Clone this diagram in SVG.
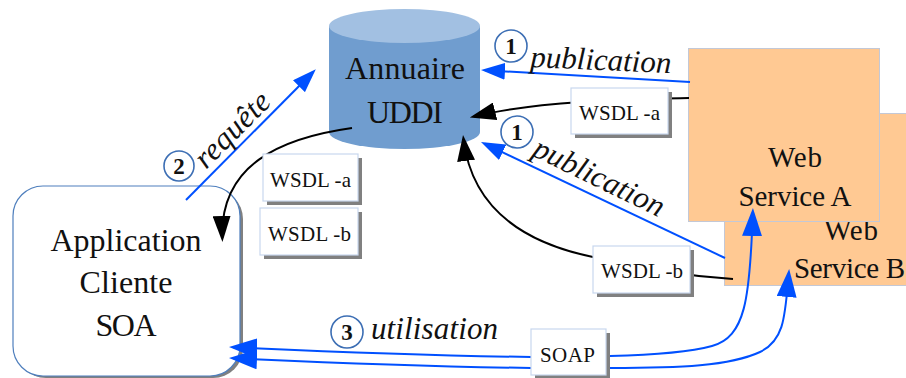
<svg xmlns="http://www.w3.org/2000/svg" width="906" height="378" viewBox="0 0 906 378">
<style>
text{font-family:"Liberation Serif","Times New Roman",serif;fill:#111}
.n{font-size:32px;text-anchor:middle}
.s{font-size:29px;text-anchor:middle}
.w{font-size:21px}
.i{font-size:31px;font-style:italic}
.d{font-size:23px;font-weight:bold;text-anchor:middle}
.c{fill:#fff;stroke:#3c6eb4;stroke-width:1.6}
.ws{fill:#ffc993;stroke:#c3c8d6;stroke-width:1}
.box{fill:#fff;stroke:#c8d7ee;stroke-width:1.2}
.sh{fill:#808080}
.k{fill:none;stroke:#000;stroke-width:2}
.b{fill:none;stroke:#0050ff;stroke-width:2}
</style>
<defs>
<marker id="hb" markerUnits="userSpaceOnUse" markerWidth="24" markerHeight="17" refX="20" refY="8.500" orient="auto"><path d="M0,0L24,8.500L0,17z" fill="#0050ff"/></marker>
<marker id="hB" markerUnits="userSpaceOnUse" markerWidth="28" markerHeight="20" refX="24" refY="10" orient="auto"><path d="M0,0L28,10L0,20z" fill="#0050ff"/></marker>
<marker id="hk" markerUnits="userSpaceOnUse" markerWidth="26" markerHeight="18" refX="22" refY="9" orient="auto"><path d="M0,0L26,9L0,18z" fill="#000"/></marker>
</defs>
<g id="client">
<rect x="16" y="189" width="227" height="189" rx="30" fill="#808080"/>
<rect x="13" y="186" width="227" height="190" rx="30" fill="#fff" stroke="#4f7fbd" stroke-width="1.2"/>
<text class="n" x="126" y="251" textLength="151">Application</text>
<text class="n" x="126" y="293" textLength="93">Cliente</text>
<text class="n" x="126" y="336" textLength="61">SOA</text>
</g>
<g id="annuaire">
<path d="M329,26V132A75.500,17 0 0 0 480,132V26z" fill="#709dcf"/>
<ellipse cx="404.500" cy="26" rx="75.500" ry="17" fill="#a2c0e2"/>
<text class="n" x="405" y="79" textLength="120">Annuaire</text>
<text class="n" x="405" y="123" textLength="76">UDDI</text>
</g>
<g id="service-b">
<rect class="ws" x="724.500" y="113.500" width="190" height="172"/>
<text class="s" x="851" y="240" textLength="54">Web</text>
<text class="s" x="794" y="278" textLength="111" style="text-anchor:start">Service B</text>
</g>
<g id="service-a">
<rect class="ws" x="688.500" y="48.500" width="191" height="173"/>
<text class="s" x="795" y="167" textLength="54">Web</text>
<text class="s" x="795" y="206" textLength="113">Service A</text>
</g>
<g id="connectors">
<path class="b" d="M186,200L313,72" marker-end="url(#hb)"/>
<path class="b" d="M690,82L485,70.200" marker-end="url(#hb)"/>
<path class="b" d="M725,258L484.600,143.700" marker-end="url(#hb)"/>
<path class="k" d="M689,98C640,99 540,100 473.700,116.600" marker-end="url(#hk)"/>
<path class="k" d="M733,279Q660,274 593,257C525,243 472,210 463.500,139" marker-end="url(#hk)"/>
<path class="k" d="M352,128C280,138 220,165 222.300,238" marker-end="url(#hk)"/>
<path class="b" d="M610,356C650,355 690,352 712,346C745,337 750,300 752.800,212" marker-end="url(#hB)"/>
<path class="b" d="M610,368C680,368 730,366 760,352C785,340 785,315 788.800,273" marker-end="url(#hB)"/>
<path class="b" d="M531,357Q400,355 233,347.200" marker-end="url(#hB)"/>
<path class="b" d="M531,368Q400,366 233,358.200" marker-end="url(#hB)"/>
</g>
<g id="wsdl-a-left">
<rect class="sh" x="267" y="158" width="95" height="47"/>
<rect class="box" x="263" y="154" width="95" height="47"/>
<text class="w" x="270" y="187" textLength="81">WSDL -a</text>
</g>
<g id="wsdl-b-left">
<rect class="sh" x="264" y="212" width="98" height="47"/>
<rect class="box" x="260" y="208" width="98" height="47"/>
<text class="w" x="268" y="241" textLength="83">WSDL -b</text>
</g>
<g id="wsdl-a-right">
<rect class="sh" x="575" y="92" width="97" height="46"/>
<rect class="box" x="571" y="88" width="97" height="46"/>
<text class="w" x="579" y="120" textLength="81">WSDL -a</text>
</g>
<g id="wsdl-b-right">
<rect class="sh" x="597" y="250" width="97" height="47"/>
<rect class="box" x="593" y="246" width="97" height="47"/>
<text class="w" x="601" y="278" textLength="82">WSDL -b</text>
</g>
<g id="soap">
<rect class="sh" x="535" y="333" width="75" height="46"/>
<rect class="box" x="531" y="329" width="75" height="46"/>
<text class="w" x="540" y="362" textLength="55">SOAP</text>
</g>
<g id="labels">
<circle class="c" cx="179" cy="166" r="15"/><text class="d" x="179" y="174">2</text>
<circle class="c" cx="511" cy="46" r="16"/><text class="d" x="511" y="54">1</text>
<circle class="c" cx="517" cy="132" r="16"/><text class="d" x="517" y="140">1</text>
<circle class="c" cx="347" cy="332" r="16"/><text class="d" x="347" y="340">3</text>
<text class="i" transform="translate(530,67) rotate(2.500)" textLength="141">publication</text>
<text class="i" transform="translate(531,155) rotate(26)" textLength="142">publication</text>
<text class="i" transform="translate(206,170) rotate(-45)" textLength="94">requête</text>
<text class="i" x="371" y="339" textLength="127">utilisation</text>
</g>
</svg>
